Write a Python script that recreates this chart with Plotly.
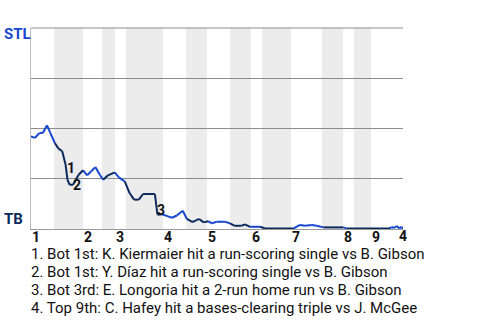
import plotly.graph_objects as go

# ---- data ----
# game progress (% of plays) and STL win probability (%)
progress = [0, 1.0, 2.3, 3.2, 4.3, 5.2, 6.4, 7.4, 8.4, 9.3, 9.8, 10.4, 11.3, 12.8, 14.0, 15.1,
            16.2, 17.3, 18.5, 19.4, 20.7, 22.5, 23.6, 25.2, 26.5, 27.7, 29.0, 30.1, 33.3, 34.0,
            35.3, 36.8, 37.9, 39.2, 40.8, 41.9, 43.3, 44.1, 45.2, 46.4, 47.6, 48.6, 49.9, 52.2,
            53.5, 54.8, 56.6, 57.5, 58.9, 61.6, 62.9, 70.5, 72.3, 73.7, 75.5, 76.8, 78.6, 84.0,
            84.9, 96.5, 96.9, 97.6, 98.3, 99.0, 99.6, 100]
stl_wp = [46.1, 45.3, 47.8, 47.8, 51.6, 47.8, 42.8, 40.0, 38.7, 32.0, 24.5, 22.0, 22.0, 27.0, 29.2, 26.7,
          28.7, 30.8, 27.0, 24.5, 26.7, 28.2, 25.7, 23.7, 17.9, 14.6, 14.6, 17.4, 17.4, 7.1,
          7.3, 6.3, 5.6, 6.7, 9.1, 5.0, 3.5, 4.0, 5.0, 3.3, 3.9, 2.8, 3.6, 3.6,
          2.8, 1.6, 1.6, 2.3, 1.1, 1.1, 0.3, 0.2, 2.0, 1.6, 2.0, 1.6, 0.8, 0.8,
          0.2, 0.2, 1.1, 0.5, 1.5, 0.3, 1.1, 0.0]

innings = ["1", "2", "3", "4", "5", "6", "7", "8", "9"]
top_start = [0, 14.0, 22.6, 35.5, 47.3, 59.1, 69.9, 83.9, 91.4]
bot_start = [6.2, 19.1, 25.5, 41.7, 53.5, 62.1, 78.2, 86.8]
bot_end = [14.0, 22.6, 35.5, 47.3, 59.1, 69.9, 83.9, 91.4]

event_ids = ["1", "2", "3", "4"]
event_x = [9.3, 11.3, 34.0, 100]
event_y = [32.0, 22.0, 7.1, 0.0]
event_text = [
    "1. Bot 1st: K. Kiermaier hit a run-scoring single vs B. Gibson",
    "2. Bot 1st: Y. Díaz hit a run-scoring single vs B. Gibson",
    "3. Bot 3rd: E. Longoria hit a 2-run home run vs B. Gibson",
    "4. Top 9th: C. Hafey hit a bases-clearing triple vs J. McGee",
]

# ---- styles ----
BLUE = "#1747cf"
NAVY = "#0b2a5c"
BAND = "#ececec"
FONT = "Roboto"

# plot area geometry (pixels)
L, R, T, B = 31, 77, 28, 91
H = 320 - T - B
W = 480 - L - R


def py(pix):
    """paper y for a pixel row"""
    return (320 - B - pix) / H


def in_bottom(x):
    return any(s <= x < e for s, e in zip(bot_start, bot_end))


# split line into blue (top halves) and navy (bottom halves) segments
bx, by, nx, ny = [], [], [], []
for i in range(len(progress) - 1):
    mid = (progress[i] + progress[i + 1]) / 2
    seg_x = [progress[i], progress[i + 1], None]
    seg_y = [stl_wp[i], stl_wp[i + 1], None]
    if in_bottom(mid):
        nx += seg_x
        ny += seg_y
    else:
        bx += seg_x
        by += seg_y

fig = go.Figure()
fig.add_trace(go.Scatter(x=bx, y=by, mode="lines", line=dict(color=BLUE, width=2),
                         hoverinfo="skip", connectgaps=False))
fig.add_trace(go.Scatter(x=nx, y=ny, mode="lines", line=dict(color=NAVY, width=2),
                         hoverinfo="skip", connectgaps=False))

shapes = []
for s, e in zip(bot_start, bot_end):
    shapes.append(dict(type="rect", xref="x", yref="paper", x0=s, x1=e, y0=0, y1=1,
                       fillcolor=BAND, line=dict(width=0), layer="below"))
# top border line (100% gridline)
shapes.append(dict(type="line", xref="paper", yref="paper", x0=0, x1=1, y0=1, y1=1,
                   line=dict(color="#8c8c8c", width=1), layer="below"))

ann = []
# inning labels
for lab, s in zip(innings, top_start):
    ann.append(dict(x=s, y=py(236.5), xref="x", yref="paper", text=f"<b>{lab}</b>",
                    showarrow=False, xanchor="left", yanchor="middle", xshift=-1,
                    font=dict(family=FONT, size=14, color="#111")))
# event labels
shifts = [(5, -3), (4, 0), (4, 5), (0, -7)]
for lab, ex, ey, (dx, dy) in zip(event_ids, event_x, event_y, shifts):
    ann.append(dict(x=ex, y=ey, xref="x", yref="y", text=f"<b>{lab}</b>", showarrow=False,
                    xanchor="center", yanchor="middle", xshift=dx, yshift=dy,
                    font=dict(family=FONT, size=14, color="#111")))
# team labels
ann.append(dict(x=(2 - L) / W, y=py(34), xref="paper", yref="paper", text="<b>STL</b>",
                showarrow=False, xanchor="left", yanchor="middle",
                font=dict(family=FONT, size=15, color=BLUE)))
ann.append(dict(x=(2 - L) / W, y=py(219), xref="paper", yref="paper", text="<b>TB</b>",
                showarrow=False, xanchor="left", yanchor="middle",
                font=dict(family=FONT, size=15, color=NAVY)))
# event descriptions
for k, txt in enumerate(event_text):
    ann.append(dict(x=0, y=py(253.5 + 18.3 * k), xref="paper", yref="paper", text=txt,
                    showarrow=False, xanchor="left", yanchor="middle", xshift=-2,
                    font=dict(family=FONT, size=15, color="#111")))

fig.update_layout(
    width=480, height=320,
    margin=dict(l=L, r=R, t=T, b=B, pad=0),
    paper_bgcolor="white", plot_bgcolor="white",
    showlegend=False,
    shapes=shapes,
    annotations=ann,
    font=dict(family=FONT),
    xaxis=dict(range=[0, 100], showgrid=False, zeroline=False, showticklabels=False,
               ticks="", showline=True, linecolor="#9a9a9a", linewidth=1, fixedrange=True),
    yaxis=dict(range=[0, 100], tickvals=[25, 50, 75], showticklabels=False,
               showgrid=True, gridcolor="#8c8c8c", gridwidth=1, zeroline=False, ticks="",
               showline=True, linecolor="#bdbdbd", linewidth=1, fixedrange=True),
)

fig.write_html("out.html")
